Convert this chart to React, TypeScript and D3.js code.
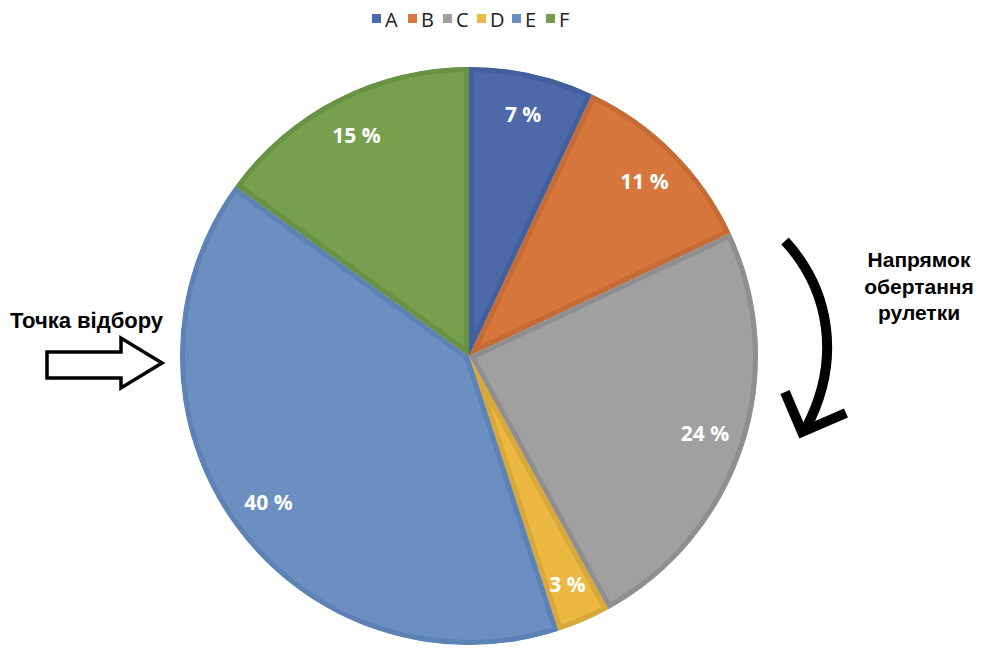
import React from "react";
import * as d3 from "d3";

const categories = ["A", "B", "C", "D", "E", "F"];
const values = [7, 11, 24, 3, 40, 15];
const labels = ["7 %", "11 %", "24 %", "3 %", "40 %", "15 %"];
const fills = ["#4d69aa", "#d8773d", "#a0a0a0", "#ecb842", "#6b8fc1", "#76a04e"];
const borders = ["#42609d", "#c56b36", "#8f8f8f", "#d9a83b", "#5d82b5", "#689244"];
const legendX = [372, 408, 443, 477, 512, 546];

export default function App() {
  const W = 987, H = 649;
  const cx = 469, cy = 356, R = 289;
  const pie = d3.pie<number>().sort(null).value((d) => d)(values);
  const arc = d3.arc<d3.PieArcDatum<number>>().innerRadius(0).outerRadius(R);
  const lab = (d: d3.PieArcDatum<number>) => {
    const a = (d.startAngle + d.endAngle) / 2;
    const r = 248;
    return [Math.sin(a) * r, -Math.cos(a) * r];
  };
  const curve = d3.path();
  curve.moveTo(785, 241);
  curve.bezierCurveTo(830, 290, 842, 360, 806, 428);
  return (
    <svg width={W} height={H} style={{ position: "absolute", left: 0, top: 0 }}>
      <rect width={W} height={H} fill="#fff" />
      <defs>
        {pie.map((d, i) => (
          <clipPath id={`clip${i}`} key={i}>
            <path d={arc(d) || ""} />
          </clipPath>
        ))}
      </defs>
      <g transform={`translate(${cx},${cy})`}>
        {pie.map((d, i) => (
          <path
            key={i}
            d={arc(d) || ""}
            fill={fills[i]}
            stroke={borders[i]}
            strokeWidth={10}
            clipPath={`url(#clip${i})`}
          />
        ))}
        {pie.map((d, i) => {
          const [x, y] = lab(d);
          return (
            <text
              key={i}
              x={x}
              y={y}
              fill="#fff"
              fontFamily="'Open Sans', sans-serif"
              fontWeight={700}
              fontSize={21}
              textAnchor="middle"
              dominantBaseline="central"
            >
              {labels[i]}
            </text>
          );
        })}
      </g>
      {categories.map((c, i) => (
        <g key={c}>
          <rect x={legendX[i]} y={14} width={9} height={9} fill={fills[i]} />
          <text
            x={legendX[i] + 13}
            y={27}
            fontFamily="'Open Sans', sans-serif"
            fontSize={20}
            fill="#222"
          >
            {c}
          </text>
        </g>
      ))}
      <text
        x={10}
        y={328}
        fontFamily="'Liberation Sans', Arial, sans-serif"
        fontWeight={700}
        fontSize={22}
        fill="#000"
      >
        Точка відбору
      </text>
      <path
        d="M47,352 L121,352 L121,338 L162,363 L121,388 L121,378 L47,378 Z"
        fill="#fff"
        stroke="#000"
        strokeWidth={3.5}
        strokeLinejoin="miter"
      />
      <path d={curve.toString()} fill="none" stroke="#000" strokeWidth={10} strokeLinecap="butt" />
      <path
        d="M785,392 L802,432 L846,413"
        fill="none"
        stroke="#000"
        strokeWidth={10}
        strokeLinejoin="miter"
      />
      {["Напрямок", "обертання", "рулетки"].map((t, i) => (
        <text
          key={t}
          x={919}
          y={267 + i * 26.5}
          textAnchor="middle"
          fontFamily="'Liberation Sans', Arial, sans-serif"
          fontWeight={700}
          fontSize={21}
          fill="#000"
        >
          {t}
        </text>
      ))}
    </svg>
  );
}
